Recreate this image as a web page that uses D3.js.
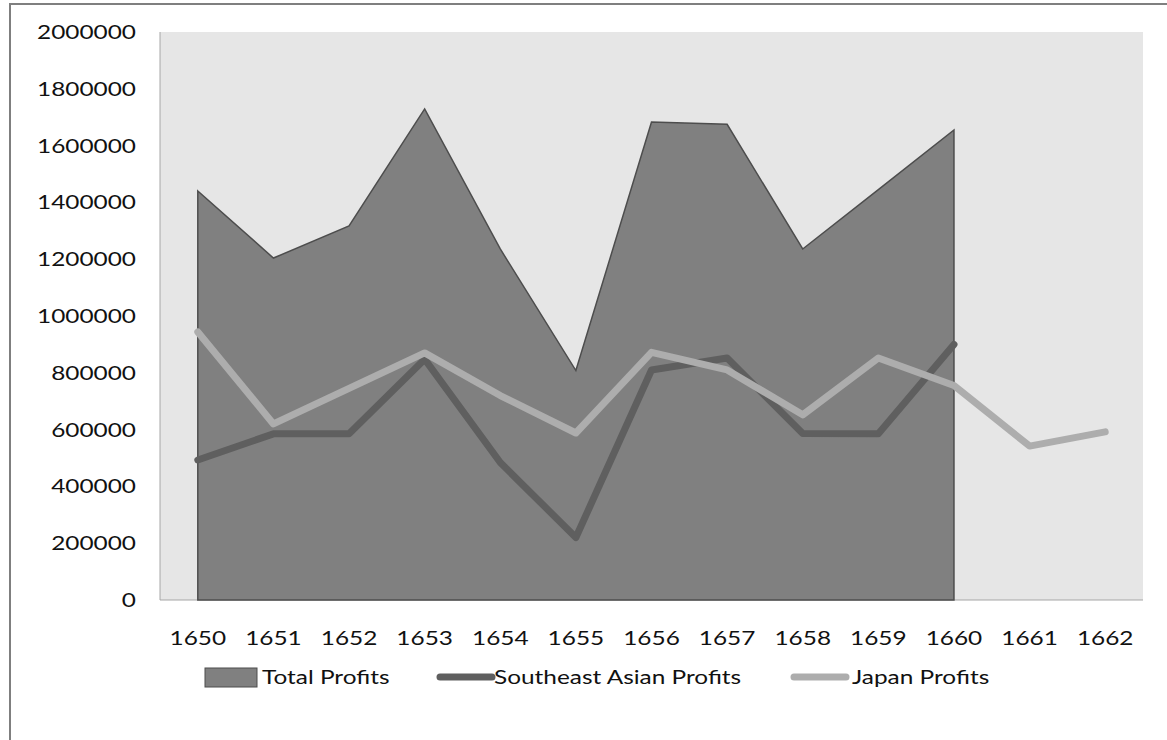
<!DOCTYPE html>
<html>
<head>
<meta charset="utf-8">
<script src="https://cdn.jsdelivr.net/npm/d3@7"></script>
<style>
  body { margin: 0; background: #fff; }
  text { font-family: Lato, "Open Sans", sans-serif; fill: #111; }
</style>
</head>
<body>
<div id="chart"></div>
<script>
// years on the category axis
const years = [1650, 1651, 1652, 1653, 1654, 1655, 1656, 1657, 1658, 1659, 1660, 1661, 1662];
// series values (null = no value that year)
const totalProfits = [1440000, 1204000, 1317000, 1729000, 1236000, 808000, 1683000, 1675000, 1236000, 1445000, 1655000, null, null];
const seAsianProfits = [493000, 585000, 585000, 848000, 484000, 220000, 810000, 852000, 586000, 585000, 900000, null, null];
const japanProfits = [944000, 620000, 745000, 870000, 720000, 588000, 872000, 810000, 652000, 852000, 755000, 542000, 592000];
const yTicks = [0, 200000, 400000, 600000, 800000, 1000000, 1200000, 1400000, 1600000, 1800000, 2000000];
const legendLabels = ["Total Profits", "Southeast Asian Profits", "Japan Profits"];

const W = 1167, H = 740;
const margin = { top: 32, right: 24, bottom: 140, left: 160 };
const stretch = 1.22; // text in the picture is drawn a bit wide

const svg = d3.select("#chart").append("svg")
    .attr("width", W)
    .attr("height", H);

// outer frame (only top & left edges visible in the picture)
svg.append("rect")
    .attr("x", 10).attr("y", 4)
    .attr("width", W + 20).attr("height", H + 20)
    .attr("fill", "none")
    .attr("stroke", "#7f7f7f")
    .attr("stroke-width", 2);

const x = d3.scaleBand()
    .domain(years)
    .range([margin.left, W - margin.right]);
const cx = d => x(d) + x.bandwidth() / 2;

const y = d3.scaleLinear()
    .domain([0, 2000000])
    .range([H - margin.bottom, margin.top]);

// plot background
svg.append("rect")
    .attr("x", margin.left).attr("y", margin.top)
    .attr("width", W - margin.right - margin.left)
    .attr("height", H - margin.bottom - margin.top)
    .attr("fill", "#e6e6e6");

// left and bottom edges of plot
svg.append("line")
    .attr("x1", margin.left).attr("x2", margin.left)
    .attr("y1", margin.top).attr("y2", y(0))
    .attr("stroke", "#a6a6a6").attr("stroke-width", 1);
svg.append("line")
    .attr("x1", margin.left).attr("x2", W - margin.right)
    .attr("y1", y(0)).attr("y2", y(0))
    .attr("stroke", "#a6a6a6").attr("stroke-width", 1);

// Total profits area
const area = d3.area()
    .defined(d => d.v != null)
    .x(d => cx(d.year))
    .y0(y(0))
    .y1(d => y(d.v));
const totalData = years.map((yr, i) => ({ year: yr, v: totalProfits[i] }));
svg.append("path")
    .datum(totalData)
    .attr("d", area)
    .attr("fill", "#808080")
    .attr("stroke", "#4d4d4d")
    .attr("stroke-width", 1.5);

// lines
const line = d3.line()
    .defined(d => d.v != null)
    .x(d => cx(d.year))
    .y(d => y(d.v));
const lineSeries = [
    { values: seAsianProfits, color: "#5f5f5f" },
    { values: japanProfits, color: "#adadad" }
];
lineSeries.forEach(s => {
    svg.append("path")
        .datum(years.map((yr, i) => ({ year: yr, v: s.values[i] })))
        .attr("d", line)
        .attr("fill", "none")
        .attr("stroke", s.color)
        .attr("stroke-width", 7)
        .attr("stroke-linejoin", "round")
        .attr("stroke-linecap", "round");
});

// Y axis labels
const yAxis = svg.append("g")
    .attr("transform", "translate(" + margin.left + ",0)")
    .call(d3.axisLeft(y).tickValues(yTicks).tickSize(0).tickFormat(d3.format("d")));
yAxis.select(".domain").remove();
yAxis.selectAll("text")
    .attr("x", -24 / stretch)
    .attr("transform", "scale(" + stretch + ",1)")
    .attr("fill", "#111")
    .style("font-size", "20px")
    .style("font-family", "Lato, sans-serif");

// X axis labels
const xAxis = svg.append("g")
    .attr("transform", "translate(0," + y(0) + ")")
    .call(d3.axisBottom(x).tickSize(0).tickPadding(31));
xAxis.select(".domain").remove();
xAxis.selectAll("text")
    .attr("transform", "scale(" + stretch + ",1)")
    .attr("fill", "#111")
    .style("font-size", "20px")
    .style("font-family", "Lato, sans-serif");

// legend
const legend = svg.append("g").attr("transform", "translate(0,677)");
const legendItems = [
    { label: legendLabels[0], x: 205, type: "rect", color: "#808080", tx: 262 },
    { label: legendLabels[1], x: 436, type: "line", color: "#5f5f5f", tx: 494 },
    { label: legendLabels[2], x: 790, type: "line", color: "#adadad", tx: 852 }
];
legendItems.forEach(it => {
    if (it.type === "rect") {
        legend.append("rect")
            .attr("x", it.x).attr("y", -9)
            .attr("width", 52).attr("height", 19)
            .attr("fill", it.color)
            .attr("stroke", "#4d4d4d").attr("stroke-width", 1);
    } else {
        legend.append("line")
            .attr("x1", it.x + 4).attr("x2", it.x + 56)
            .attr("y1", 0).attr("y2", 0)
            .attr("stroke", it.color)
            .attr("stroke-width", 7)
            .attr("stroke-linecap", "round");
    }
    legend.append("text")
        .attr("transform", "translate(" + it.tx + ",0) scale(" + stretch + ",1)")
        .attr("dy", "0.35em")
        .style("font-size", "20px")
        .text(it.label);
});
</script>
</body>
</html>
